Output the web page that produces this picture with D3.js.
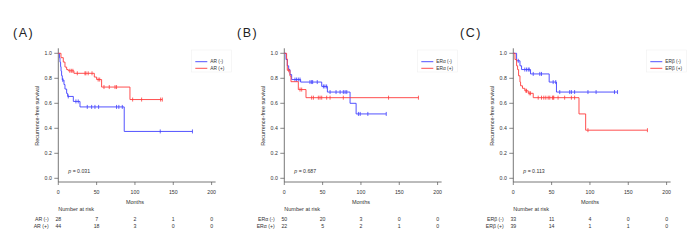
<!DOCTYPE html>
<html>
<head>
<meta charset="utf-8">
<script src="https://cdn.jsdelivr.net/npm/d3@7"></script>
<style>
  body { margin: 0; background: #fff; }
  text { font-family: "Liberation Sans", Arial, sans-serif; fill: #333; }
</style>
</head>
<body>
<svg id="chart" width="700" height="250"></svg>
<script>
// ---- data ----
var monthTicks = [0, 50, 100, 150, 200];
var survTicks  = [0, 0.2, 0.4, 0.6, 0.8, 1.0];

// (A) AR
var arNegTime = [1.5, 2.2, 3, 3.6, 4.3, 5.2, 7.4, 8.7, 10.9, 12.2, 19.6, 28.3, 86];
var arNegSurv = [0.964, 0.929, 0.893, 0.857, 0.821, 0.786, 0.75, 0.714, 0.679, 0.655, 0.615, 0.571, 0.375];
var arNegCens = [5.9, 13, 23, 26, 37.8, 43.5, 47.8, 52.6, 76, 79, 83.5, 133, 175];
var arPosTime = [3.5, 6.5, 8.7, 10.9, 13, 20.4, 47, 50, 56.5, 93.5];
var arPosSurv = [0.965, 0.93, 0.89, 0.87, 0.86, 0.84, 0.81, 0.79, 0.73, 0.63];
var arPosCens = [15, 17, 19, 24.8, 34.8, 36, 39, 44, 52, 54, 59.6, 66.5, 74, 76, 97, 108.7, 133.5, 135.7];

// (B) ER alpha
var eraNegTime = [2.2, 3.9, 5.7, 7.4, 9.6, 21.3, 48.8, 56.2, 85.8, 93.7];
var eraNegSurv = [0.95, 0.9, 0.87, 0.83, 0.79, 0.77, 0.735, 0.69, 0.6, 0.515];
var eraNegCens = [13.9, 16, 18.3, 20.5, 33.5, 35.7, 37, 43, 51, 53, 55.2, 59.7, 67.5, 72.8, 77, 79.3, 81.5, 96.7, 99, 109, 133];
var eraPosTime = [3, 3.9, 7.4, 8.7, 18.3, 28.3];
var eraPosSurv = [0.955, 0.864, 0.818, 0.773, 0.71, 0.645];
var eraPosCens = [5.7, 20.5, 22.7, 35.7, 38, 44.4, 46.6, 48.8, 55.3, 59.7, 77, 136, 175];

// (C) ER beta
var erbNegTime = [4.3, 8.7, 10.8, 22.5, 46.8, 56.3];
var erbNegSurv = [0.94, 0.9, 0.87, 0.835, 0.77, 0.69];
var erbNegCens = [6.5, 15, 17.3, 19.5, 20.8, 26, 34.6, 36.8, 52, 55.4, 60.6, 73.6, 75.8, 80, 97.4, 108, 132, 136];
var erbPosTime = [2.2, 4.3, 5.6, 6.9, 8.7, 9.5, 12, 15, 19.5, 26, 85.7, 94.4];
var erbPosSurv = [0.95, 0.9, 0.87, 0.82, 0.77, 0.74, 0.72, 0.7, 0.68, 0.645, 0.515, 0.385];
var erbPosCens = [16.5, 17.3, 20.8, 22.5, 32.5, 36.8, 39.8, 42.4, 45.5, 47.6, 51, 52, 52.8, 58.4, 67, 75.8, 80, 97.4, 175];

var panelTags   = ["(A)", "(B)", "(C)"];
var negLabels   = ["AR (-)", "ER\u03b1 (-)", "ER\u03b2 (-)"];
var posLabels   = ["AR (+)", "ER\u03b1 (+)", "ER\u03b2 (+)"];
var pValues     = ["0.031", "0.687", "0.113"];
var negAtRisk   = [[28, 7, 2, 1, 0], [50, 20, 3, 0, 0], [33, 11, 4, 0, 0]];
var posAtRisk   = [[44, 18, 3, 0, 0], [22, 5, 2, 1, 0], [39, 14, 1, 1, 0]];

var panels = [
  {neg: [arNegTime, arNegSurv, arNegCens],   pos: [arPosTime, arPosSurv, arPosCens]},
  {neg: [eraNegTime, eraNegSurv, eraNegCens], pos: [eraPosTime, eraPosSurv, eraPosCens]},
  {neg: [erbNegTime, erbNegSurv, erbNegCens], pos: [erbPosTime, erbPosSurv, erbPosCens]}
];

// ---- layout ----
var panelLeft = [58.3, 284.3, 513.3];
var tagLeft   = [13, 237, 460];
var plotW = 153.3, yTop = 53.3, yBot = 178.3, axisY = 182;
var blue = "#3f3fff", red = "#ff3b3b";

var svg = d3.select("#chart");

function survAt(times, surv, t) {
  var s = 1;
  for (var i = 0; i < times.length; i++) { if (times[i] <= t) s = surv[i]; }
  return s;
}

panels.forEach(function(p, i) {
  var x0 = panelLeft[i];
  var g = svg.append("g").attr("transform", "translate(" + x0 + ",0)");

  var x = d3.scaleLinear().domain([0, 200]).range([0, plotW]);
  var y = d3.scaleLinear().domain([0, 1]).range([yBot, yTop]);

  // panel tag
  svg.append("text")
    .attr("x", tagLeft[i]).attr("y", 37)
    .attr("font-size", 12.5).attr("letter-spacing", 1.5)
    .style("fill", "#222")
    .text(panelTags[i]);

  // axes lines (L shape)
  g.append("path")
    .attr("d", "M0," + (yTop - 5) + "V" + axisY + "H" + (plotW + 4))
    .attr("fill", "none").attr("stroke", "#555").attr("stroke-width", 0.8);

  // y ticks
  survTicks.forEach(function(v) {
    g.append("line").attr("x1", -4).attr("x2", 0)
      .attr("y1", y(v)).attr("y2", y(v))
      .attr("stroke", "#555").attr("stroke-width", 0.7);
    g.append("text").attr("x", -6.5).attr("y", y(v) + 1.8)
      .attr("text-anchor", "end").attr("font-size", 5.2)
      .text(d3.format(".1f")(v));
  });

  // x ticks
  monthTicks.forEach(function(v) {
    g.append("line").attr("x1", x(v)).attr("x2", x(v))
      .attr("y1", axisY).attr("y2", axisY + 3)
      .attr("stroke", "#555").attr("stroke-width", 0.7);
    g.append("text").attr("x", x(v)).attr("y", axisY + 12)
      .attr("text-anchor", "middle").attr("font-size", 5.2)
      .text(v);
  });

  g.append("text").attr("x", x(100)).attr("y", 204.3)
    .attr("text-anchor", "middle").attr("font-size", 5.5).text("Months");

  g.append("text")
    .attr("transform", "translate(-19," + ((yTop + yBot) / 2) + ")rotate(-90)")
    .attr("text-anchor", "middle").attr("font-size", 5.5)
    .text("Recurrence-free survival");

  // p value
  var pt = g.append("text").attr("x", 10).attr("y", 173).attr("font-size", 5.2);
  pt.append("tspan").attr("font-style", "italic").text("p");
  pt.append("tspan").text(" = " + pValues[i]);

  // curves
  var line = d3.line()
    .x(function(d) { return x(d[0]); })
    .y(function(d) { return y(d[1]); })
    .curve(d3.curveStepAfter);

  [[p.neg, blue], [p.pos, red]].forEach(function(s) {
    var times = s[0][0], surv = s[0][1], cens = s[0][2];
    var pts = [[0, 1]];
    times.forEach(function(t, k) { pts.push([t, surv[k]]); });
    var tEnd = Math.max(d3.max(times), d3.max(cens));
    pts.push([tEnd, survAt(times, surv, tEnd)]);

    g.append("path").datum(pts)
      .attr("d", line).attr("fill", "none")
      .attr("stroke", s[1]).attr("stroke-width", 0.9);

    g.selectAll(null).data(cens).enter().append("line")
      .attr("x1", function(d) { return x(d); })
      .attr("x2", function(d) { return x(d); })
      .attr("y1", function(d) { return y(survAt(times, surv, d)) - 2; })
      .attr("y2", function(d) { return y(survAt(times, surv, d)) + 2; })
      .attr("stroke", s[1]).attr("stroke-width", 0.8);
  });

  // legend
  g.append("rect").attr("x", 133).attr("y", 50).attr("width", 40).attr("height", 22)
    .attr("fill", "none").attr("stroke", "#f0f0f0").attr("stroke-width", 0.6);
  [[negLabels[i], blue, 61.7], [posLabels[i], red, 68.3]].forEach(function(l) {
    g.append("line").attr("x1", 137).attr("x2", 149)
      .attr("y1", l[2]).attr("y2", l[2])
      .attr("stroke", l[1]).attr("stroke-width", 0.9);
    g.append("text").attr("x", 152).attr("y", l[2] + 1.7)
      .attr("font-size", 4.8).text(l[0]);
  });

  // number at risk
  g.append("text").attr("x", 0).attr("y", 211.3)
    .attr("font-size", 5.5).text("Number at risk");
  [[negLabels[i], negAtRisk[i], 220.8], [posLabels[i], posAtRisk[i], 227.8]].forEach(function(r) {
    g.append("text").attr("x", -9.5).attr("y", r[2])
      .attr("text-anchor", "end").attr("font-size", 5.2).text(r[0]);
    r[1].forEach(function(n, k) {
      g.append("text").attr("x", x(monthTicks[k])).attr("y", r[2])
        .attr("text-anchor", "middle").attr("font-size", 5.2).text(n);
    });
  });
});
</script>
</body>
</html>
